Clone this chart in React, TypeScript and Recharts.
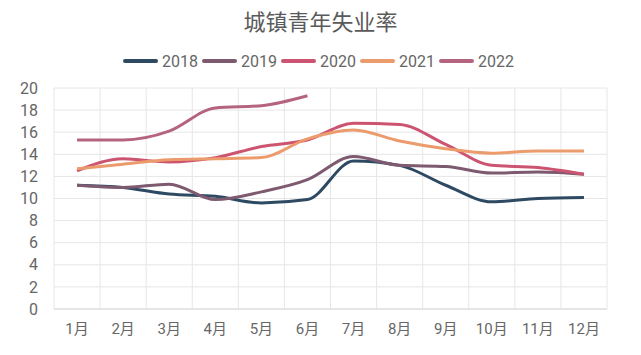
import React from 'react';
import { LineChart, Line, XAxis, YAxis, CartesianGrid, Legend } from 'recharts';

const months = ['1月', '2月', '3月', '4月', '5月', '6月', '7月', '8月', '9月', '10月', '11月', '12月'];
const y2018 = [11.2, 11.0, 10.4, 10.2, 9.6, 9.9, 13.4, 13.0, 11.2, 9.7, 10.0, 10.1];
const y2019 = [11.2, 11.0, 11.3, 9.9, 10.6, 11.7, 13.8, 13.0, 12.9, 12.3, 12.4, 12.2];
const y2020 = [12.5, 13.6, 13.3, 13.7, 14.7, 15.3, 16.8, 16.7, 14.9, 13.0, 12.8, 12.2];
const y2021 = [12.7, 13.1, 13.5, 13.6, 13.7, 15.4, 16.2, 15.2, 14.5, 14.1, 14.3, 14.3];
const y2022 = [15.3, 15.3, 16.1, 18.2, 18.4, 19.3];
const yTicks = [0, 2, 4, 6, 8, 10, 12, 14, 16, 18, 20];
const bandEdges = [0, 1, 2, 3, 4, 5, 6, 7, 8, 9, 10, 11, 12];
const monthCenters = months.map((_, i) => i + 0.5);

const data = months.map((m, i) => ({
  month: m,
  pos: i + 0.5,
  '2018': y2018[i],
  '2019': y2019[i],
  '2020': y2020[i],
  '2021': y2021[i],
  '2022': i < y2022.length ? y2022[i] : null,
}));

const series = [
  { key: '2018', color: '#2e4a62' },
  { key: '2019', color: '#7e5a70' },
  { key: '2020', color: '#cd5470' },
  { key: '2021', color: '#eb9b6c' },
  { key: '2022', color: '#b5647f' },
];

const textColor = '#666';
const numFont = 'Roboto, "Noto Sans CJK SC", sans-serif';

const renderLegend = () => (
  <div style={{ display: 'flex', justifyContent: 'center', alignItems: 'center', height: 24 }}>
    {series.map((s) => (
      <div key={s.key} style={{ display: 'flex', alignItems: 'center', marginRight: 4 }}>
        <div style={{ width: 35, height: 4, borderRadius: 2, background: s.color, marginRight: 4 }} />
        <span style={{ fontSize: 16, fontFamily: numFont, color: textColor }}>{s.key}</span>
      </div>
    ))}
  </div>
);

export default function App() {
  return (
    <div style={{ position: 'absolute', left: 0, top: 0, width: 641, height: 355, background: '#fff' }}>
      <div
        style={{
          position: 'absolute',
          top: 5,
          left: 0,
          width: 641,
          textAlign: 'center',
          fontSize: 22,
          lineHeight: '30px',
          color: '#5a5a5a',
          fontFamily: '"Noto Sans CJK SC", sans-serif',
        }}
      >
        城镇青年失业率
      </div>
      <LineChart width={641} height={355} data={data} margin={{ top: 64, right: 34, left: 0, bottom: 0 }}>
        <CartesianGrid stroke="#e6e6e6" xAxisId="grid" />
        <XAxis xAxisId="grid" type="number" dataKey="pos" domain={[0, 12]} ticks={bandEdges} height={0} hide />
        <XAxis
          xAxisId="main"
          type="number"
          dataKey="pos"
          domain={[0, 12]}
          ticks={monthCenters}
          tickFormatter={(v) => months[Math.floor(v)]}
          height={46}
          tick={{ fill: textColor, fontSize: 15, fontFamily: numFont }}
          tickLine={false}
          axisLine={{ stroke: '#d9d9d9' }}
          tickMargin={8}
          interval={0}
        />
        <YAxis
          width={54}
          domain={[0, 20]}
          ticks={yTicks}
          interval={0}
          tick={{ fill: textColor, fontSize: 16, fontFamily: numFont }}
          tickLine={false}
          axisLine={false}
          tickMargin={10}
        />
        <Legend verticalAlign="top" content={renderLegend} wrapperStyle={{ top: 49, left: 0, width: 641 }} />
        {series.map((s) => (
          <Line
            key={s.key}
            xAxisId="main"
            type="monotone"
            dataKey={s.key}
            name={s.key}
            stroke={s.color}
            strokeWidth={3}
            dot={false}
            isAnimationActive={false}
            connectNulls={false}
          />
        ))}
      </LineChart>
    </div>
  );
}
